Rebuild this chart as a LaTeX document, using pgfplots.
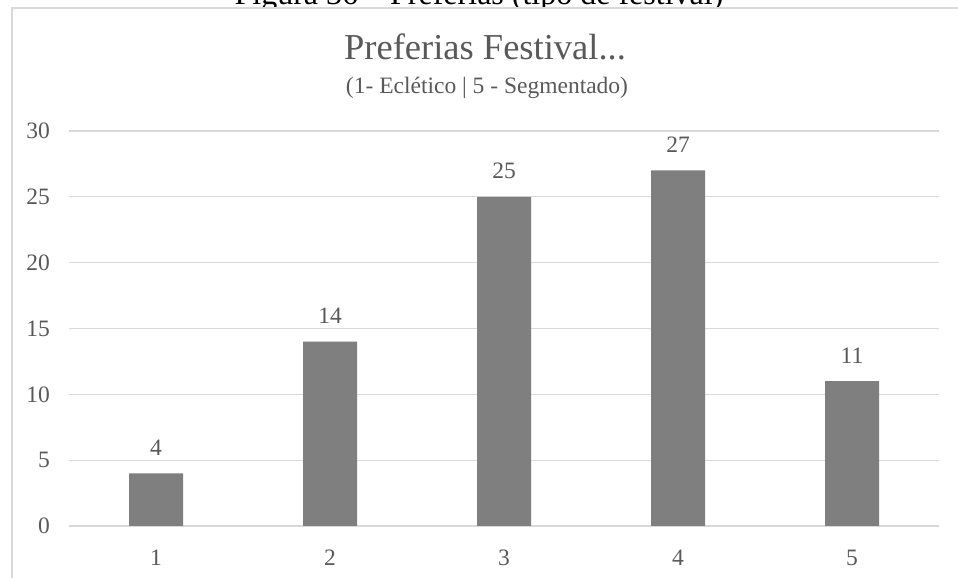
\documentclass[border=0pt]{standalone}
\usepackage{pgfplots}
\pgfplotsset{compat=1.18}
\usepackage{fontspec}
\setmainfont{Liberation Serif}
\definecolor{bargray}{HTML}{7F7F7F}
\definecolor{txtgray}{HTML}{595959}
\definecolor{gridgray}{HTML}{D9D9D9}
\begin{document}
\begin{tikzpicture}
  \useasboundingbox (0pt,0pt) rectangle (958pt,578pt);
  % document caption above the chart frame
  \node[anchor=base, inner sep=0, font=\fontsize{32}{36}\selectfont] at (479pt,573pt) {Figura 36 – Preferias (tipo de festival)};
  % chart frame
  \fill[white] (12pt,-20pt) rectangle (980pt,570pt);
  \draw[gridgray, line width=1.5pt] (12pt,-20pt) rectangle (980pt,570pt);
  % chart title and subtitle
  \node[anchor=base, inner sep=0, text=txtgray, font=\fontsize{36.5}{42}\selectfont] at (485pt,518pt) {Preferias Festival...};
  \node[anchor=base, inner sep=0, text=txtgray, font=\fontsize{23.5}{28}\selectfont] at (487pt,484pt) {(1- Eclético | 5 - Segmentado)};
  \begin{axis}[
    at={(69pt,52pt)}, anchor=origin,
    scale only axis, width=870pt, height=395pt,
    xmin=0.5, xmax=5.5, ymin=0, ymax=30,
    xtick={1,2,3,4,5},
    ytick={0,5,...,30},
    axis line style={draw=none},
    major tick length=0pt,
    ymajorgrids, grid style={gridgray, line width=1.2pt},
    /pgf/number format/assume math mode=true,
    ticklabel style={text=txtgray, font=\fontsize{23.5}{28}\selectfont},
    xticklabel style={anchor=base, inner sep=0pt, yshift=-39pt},
    yticklabel style={anchor=east, inner sep=0pt, xshift=-19pt},
    ybar, bar width=54pt, bar shift=0pt,
    nodes near coords,
    every node near coord/.append style={anchor=base, inner sep=0pt, yshift=18pt, text=txtgray, font=\fontsize{23.5}{28}\selectfont},
    clip=false,
  ]
    \addplot[fill=bargray, draw=none] coordinates {(1,4) (2,14) (3,25) (4,27) (5,11)};
  \end{axis}
\end{tikzpicture}
\end{document}
